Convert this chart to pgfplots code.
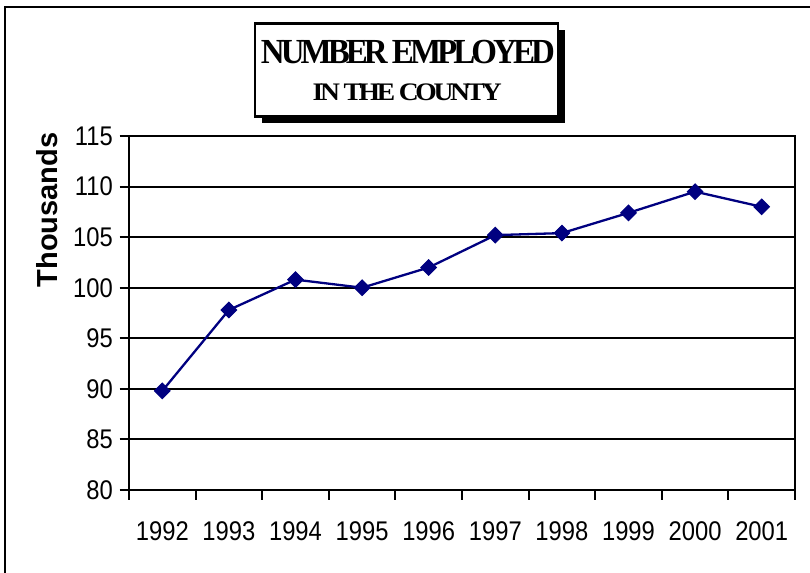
\documentclass[border=0pt]{standalone}
\usepackage{pgfplots}
\pgfplotsset{compat=1.18}
\usepackage{fontspec}
\setmainfont{Liberation Sans}
\newfontfamily\tickfont[FakeStretch=0.88]{Liberation Sans}
\newfontfamily\titlefont[LetterSpace=-12]{Liberation Serif}
\definecolor{navy}{RGB}{0,0,128}
\begin{document}
\begin{tikzpicture}
\useasboundingbox (0,0) rectangle (810bp,-573bp);
\fill[white] (0,0) rectangle (810bp,-573bp);
\draw[line width=2bp] (5bp,-573bp) -- (5bp,-7.3bp) -- (810bp,-7.3bp);
\begin{axis}[
  at={(129bp,-490bp)}, anchor=south west,
  scale only axis, width=666bp, height=354bp,
  xmin=0.5, xmax=10.5, ymin=80, ymax=115,
  ytick={80,85,90,95,100,105,110,115},
  xtick={0.5,1.5,2.5,3.5,4.5,5.5,6.5,7.5,8.5,9.5,10.5},
  xticklabels={},
  extra x ticks={1,2,3,4,5,6,7,8,9,10},
  extra x tick labels={1992,1993,1994,1995,1996,1997,1998,1999,2000,2001},
  extra x tick style={major tick length=0pt, grid=none,
     xticklabel style={font=\tickfont\fontsize{27bp}{32bp}\selectfont, inner sep=0pt, anchor=north, yshift=-31.5bp}},
  tick align=outside,
  xtick pos=bottom, ytick pos=left,
  major tick length=9.5bp,
  tick style={black, line width=2bp},
  axis line style={line width=2bp},
  ymajorgrids,
  major grid style={black, line width=2bp},
  /pgf/number format/assume math mode=true,
  yticklabel style={font=\tickfont\fontsize{27bp}{32bp}\selectfont, inner sep=0pt, anchor=east, xshift=-6.5bp},
  ylabel={Thousands},
  ylabel style={font=\bfseries\fontsize{29bp}{34bp}\selectfont, at={(axis description cs:-0.1224,0.791)}, anchor=center, inner sep=0pt},
]
\addplot[navy, line width=2.3bp, mark=square*, mark size=5.5bp,
  mark options={solid, fill=navy, draw=navy, line width=1bp, rotate=45}]
  coordinates {(1,89.8)(2,97.8)(3,100.8)(4,100.0)(5,102.0)(6,105.2)(7,105.4)(8,107.4)(9,109.5)(10,108.0)};
\end{axis}
\fill[black] (262bp,-30bp) rectangle (565bp,-123bp);
\draw[line width=2.5bp, fill=white] (255bp,-23.3bp) rectangle (558bp,-116.7bp);
\node[anchor=base, inner sep=0pt] at (407.9bp,-63.3bp)
  {\titlefont\bfseries\resizebox{294bp}{23.3bp}{NUMBER EMPLOYED}};
\node[anchor=base, inner sep=0pt] at (407.2bp,-100bp)
  {\titlefont\bfseries\resizebox{189bp}{16.7bp}{IN THE COUNTY}};
\end{tikzpicture}
\end{document}
